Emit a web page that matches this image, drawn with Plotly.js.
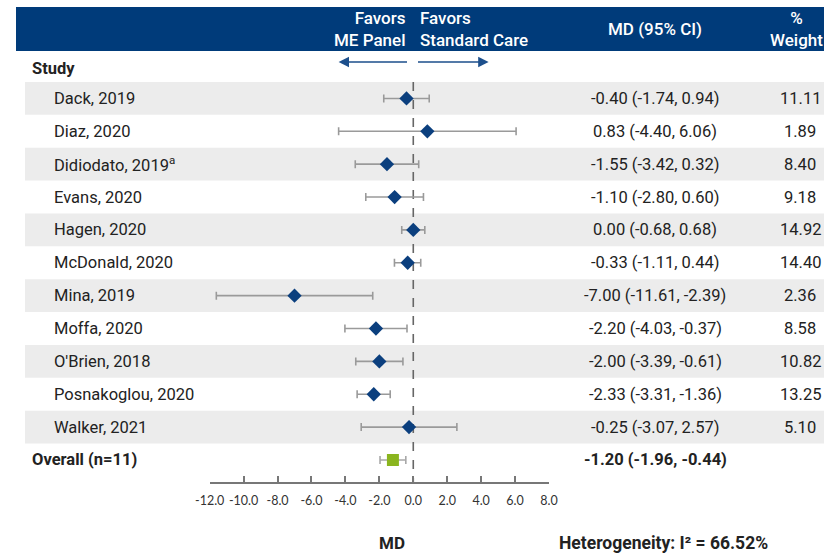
<!DOCTYPE html>
<html><head><meta charset="utf-8">
<script src="https://cdn.plot.ly/plotly-3.0.1.min.js"></script>
<style>html,body{margin:0;padding:0;background:#fff}#chart{width:824px;height:553px}</style>
</head><body><div id="chart"></div>
<script>
const studies = ["Dack, 2019","Diaz, 2020","Didiodato, 2019<sup>a</sup>","Evans, 2020","Hagen, 2020","McDonald, 2020","Mina, 2019","Moffa, 2020","O'Brien, 2018","Posnakoglou, 2020","Walker, 2021"];
const md    = [-0.40, 0.83, -1.55, -1.10, 0.00, -0.33, -7.00, -2.20, -2.00, -2.33, -0.25];
const lower = [-1.74, -4.40, -3.42, -2.80, -0.68, -1.11, -11.61, -4.03, -3.39, -3.31, -3.07];
const upper = [0.94, 6.06, 0.32, 0.60, 0.68, 0.44, -2.39, -0.37, -0.61, -1.36, 2.57];
const weights = ["11.11","1.89","8.40","9.18","14.92","14.40","2.36","8.58","10.82","13.25","5.10"];
const overallLabel = "Overall (n=11)";
const overallMd = -1.20, overallLower = -1.96, overallUpper = -0.44;
const tickVals = [-12,-10,-8,-6,-4,-2,0,2,4,6,8];
const tickText = ["-12.0","-10.0","-8.0","-6.0","-4.0","-2.0","0.0","2.0","4.0","6.0","8.0"];

const FONT = "Roboto, 'Liberation Sans', sans-serif";
const fmt = v => v.toFixed(2);
const rows = studies.map((_, i) => i);
const overallRow = studies.length;

const traces = [
  {
    type: 'scatter', mode: 'markers', x: md, y: rows,
    marker: {symbol: 'diamond', size: 11, color: '#0b3f7e'},
    error_x: {type: 'data', symmetric: false,
      array: md.map((v, i) => upper[i] - v), arrayminus: md.map((v, i) => v - lower[i]),
      color: '#9a9a9a', thickness: 1.6, width: 4},
    hoverinfo: 'skip', showlegend: false
  },
  {
    type: 'scatter', mode: 'markers', x: [overallMd], y: [overallRow],
    marker: {symbol: 'square', size: 12, color: '#8ab51f'},
    error_x: {type: 'data', symmetric: false,
      array: [overallUpper - overallMd], arrayminus: [overallMd - overallLower],
      color: '#a8a8a8', thickness: 1.6, width: 4},
    hoverinfo: 'skip', showlegend: false
  }
];

const shapes = [];
const ann = [];
rows.forEach(i => {
  if (i % 2 === 0) shapes.push({type: 'rect', layer: 'below', xref: 'paper', yref: 'y',
    x0: 25/824, x1: 1, y0: i - 0.5, y1: i + 0.5, fillcolor: '#ececec', line: {width: 0}});
});
shapes.push({type: 'rect', xref: 'paper', yref: 'paper', x0: 16/824, x1: 1, y0: (482-51)/400, y1: (482-7)/400,
  fillcolor: '#003b7a', line: {width: 0}});
shapes.push({type: 'line', xref: 'x', yref: 'y', x0: 0, x1: 0, y0: -0.5, y1: 11.67,
  line: {color: '#666', width: 1.6, dash: 'dash'}, layer: 'below'});

const txt = (text, x, y, xanchor, opts = {}) => Object.assign({
  text, x, y, xref: 'paper', yref: 'y', xanchor, yanchor: 'middle', showarrow: false,
  font: {family: FONT, size: 16.5, color: '#222'}
}, opts);

studies.forEach((s, i) => {
  ann.push(txt(s, 52/824, i, 'left'));
  ann.push(txt(`${fmt(md[i])} (${fmt(lower[i])}, ${fmt(upper[i])})`, 655/824, i, 'center'));
  ann.push(txt(weights[i], 800/824, i, 'center'));
});
ann.push(txt('<b>' + overallLabel + '</b>', 30/824, overallRow, 'left'));
ann.push(txt(`<b>${fmt(overallMd)} (${fmt(overallLower)}, ${fmt(overallUpper)})</b>`, 655/824, overallRow, 'center'));

const py = p => (482 - p) / 400;
ann.push({text: '<b>Study</b>', xref: 'paper', yref: 'paper', x: 30/824, y: py(68), xanchor: 'left', yanchor: 'middle', showarrow: false, font: {family: FONT, size: 16.5, color: '#222'}});
const hdr = {family: FONT, size: 17, color: '#ffffff', weight: 500};
ann.push({text: 'Favors<br>ME Panel', xref: 'paper', yref: 'paper', x: 408/824, y: py(29), xanchor: 'right', yanchor: 'middle', align: 'right', showarrow: false, font: hdr});
ann.push({text: 'Favors<br>Standard Care', xref: 'paper', yref: 'paper', x: 418/824, y: py(29), xanchor: 'left', yanchor: 'middle', align: 'left', showarrow: false, font: hdr});
ann.push({text: 'MD (95% CI)', xref: 'paper', yref: 'paper', x: 655/824, y: py(29), xanchor: 'center', yanchor: 'middle', showarrow: false, font: hdr});
ann.push({text: '%<br>Weight', xref: 'paper', yref: 'paper', x: 796/824, y: py(29), xanchor: 'center', yanchor: 'middle', align: 'center', showarrow: false, font: hdr});
ann.push({x: -4.4, y: py(62), xref: 'x', yref: 'paper', axref: 'x', ax: -0.28, ayref: 'pixel', ay: 0, text: '',
  showarrow: true, arrowhead: 2, arrowsize: 1.3, arrowwidth: 1.6, arrowcolor: '#1c4f8c'});
ann.push({x: 4.44, y: py(62), xref: 'x', yref: 'paper', axref: 'x', ax: 0.19, ayref: 'pixel', ay: 0, text: '',
  showarrow: true, arrowhead: 2, arrowsize: 1.3, arrowwidth: 1.6, arrowcolor: '#1c4f8c'});
ann.push({text: '<b>MD</b>', xref: 'paper', yref: 'paper', x: 392/824, y: py(543), xanchor: 'center', yanchor: 'middle', showarrow: false, font: {family: FONT, size: 17, color: '#222'}});
ann.push({text: '<b>Heterogeneity: I\u00b2 = 66.52%</b>', xref: 'paper', yref: 'paper', x: 663/824, y: py(543), xanchor: 'center', yanchor: 'middle', showarrow: false, font: {family: FONT, size: 17.5, color: '#222'}});

const layout = {
  width: 824, height: 553,
  margin: {l: 0, r: 0, t: 82, b: 71, pad: 0},
  paper_bgcolor: '#fff', plot_bgcolor: 'rgba(0,0,0,0)',
  xaxis: {domain: [209.7/824, 549/824], range: [-12, 8], tickvals: tickVals, ticktext: tickText,
    showgrid: false, zeroline: false, showline: true, linecolor: '#777', linewidth: 2,
    ticks: 'inside', ticklen: 6, tickwidth: 2, tickcolor: '#777', ticklabelstandoff: 6,
    tickfont: {family: 'Lato, sans-serif', size: 12.5, color: '#333'}, fixedrange: true},
  yaxis: {range: [11.67, -0.5], showgrid: false, zeroline: false, showticklabels: false, showline: false, ticks: '', fixedrange: true},
  shapes, annotations: ann, showlegend: false
};
Plotly.newPlot('chart', traces, layout, {displayModeBar: false, staticPlot: true});
</script></body></html>
